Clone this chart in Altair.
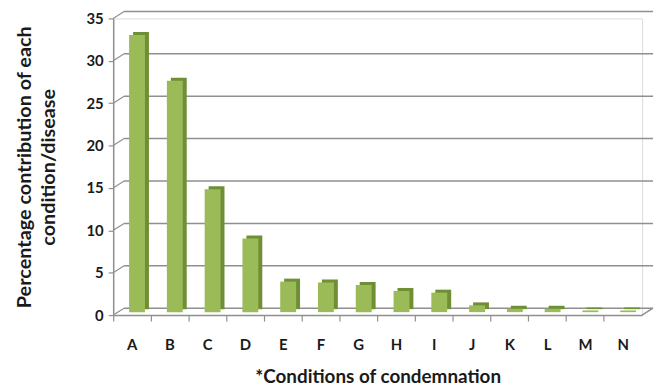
import altair as alt
import pandas as pd

categories = ["A", "B", "C", "D", "E", "F", "G", "H", "I", "J", "K", "L", "M", "N"]
values = [32.7, 27.3, 14.5, 8.7, 3.6, 3.5, 3.2, 2.5, 2.3, 0.8, 0.4, 0.4, 0.2, 0.2]
grid_values = [0, 5, 10, 15, 20, 25, 30, 35]

W, H = 533, 299
DX, DY = 11, -7
FONT = "Lato"
GRID = "#8f8f8f"
TXT = "#1a1a1a"

bars = pd.DataFrame({"cat": categories, "val": values})
grid = pd.DataFrame({"g": grid_values})
floor = pd.DataFrame({"g": [0]})

x_enc = alt.X("cat:N", sort=categories, title="*Conditions of condemnation",
              scale=alt.Scale(paddingInner=0, paddingOuter=0),
              axis=alt.Axis(labelAngle=0, bandPosition=0, tickSize=6, labelPadding=17,
                            domainColor=GRID, tickColor=GRID, domainWidth=1.5, tickWidth=1.2,
                            labelFontSize=15, labelFontWeight="bold", labelColor=TXT,
                            titleFontSize=19, titleColor=TXT, titleFontWeight="bold",
                            titlePadding=15))
y_scale = alt.Scale(domain=[0, 35], nice=False)

gridlines = alt.Chart(grid).mark_rule(color=GRID, strokeWidth=1.5, yOffset=DY, y2Offset=DY).encode(
    y=alt.Y("g:Q", scale=y_scale, title=["Percentage contribution of each", "condition/disease"],
            axis=alt.Axis(values=grid_values, grid=False, tickSize=5, labelPadding=5,
                          domainColor=GRID, tickColor=GRID, domainWidth=1.5, tickWidth=1.2,
                          labelFontSize=15, labelFontWeight="bold", labelColor=TXT,
                          titleFontSize=20, titleColor=TXT, titleFontWeight="bold",
                          titlePadding=28, titleLineHeight=24)),
    x=alt.value(DX), x2=alt.value(W + DX))

slants = alt.Chart(grid).mark_rule(color=GRID, strokeWidth=1.2, y2Offset=DY).encode(
    y=alt.Y("g:Q", scale=y_scale), y2="g:Q", x=alt.value(0), x2=alt.value(DX))

floor_edge = alt.Chart(floor).mark_rule(color=GRID, strokeWidth=1.5, y2Offset=DY).encode(
    y=alt.Y("g:Q", scale=y_scale), y2="g:Q", x=alt.value(W), x2=alt.value(W + DX))

side = alt.Chart(bars).mark_bar(color="#6f8f34", size=16, xOffset=9, yOffset=-6).encode(
    x=x_enc, y=alt.Y("val:Q", scale=y_scale))
front = alt.Chart(bars).mark_bar(color="#9bbb59", size=16, xOffset=5, yOffset=-3).encode(
    x=x_enc, y=alt.Y("val:Q", scale=y_scale))

chart = alt.layer(gridlines, slants, floor_edge, side, front).properties(
    width=W, height=H,
    autosize=alt.AutoSizeParams(type="none"),
    padding={"left": 106, "top": 9, "right": 12, "bottom": 76},
).configure_view(stroke=None).configure(font=FONT)

chart.save("out.html", embed_options={"renderer": "svg", "actions": False})
